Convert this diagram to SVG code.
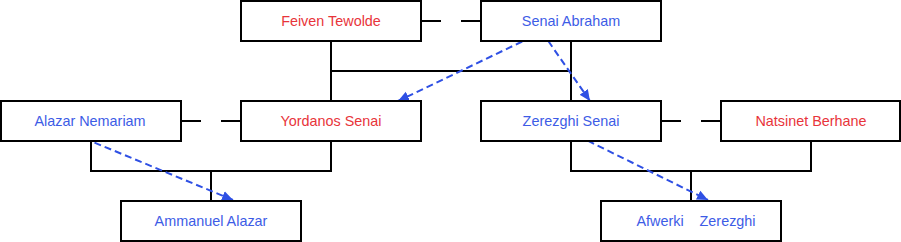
<svg xmlns="http://www.w3.org/2000/svg" width="901" height="242" viewBox="0 0 901 242">
<style>
.box{fill:#fff;stroke:#000;stroke-width:2}
.t{font-family:"Liberation Sans",Arial,sans-serif;font-size:14.4px;text-anchor:middle}
.red{fill:#e8343a}
.blue{fill:#3d5ce6}
.ln{fill:none;stroke:#000;stroke-width:2}
.dash{fill:none;stroke:#2f50e4;stroke-width:2;stroke-dasharray:7 4;marker-end:url(#ah)}
</style>
<defs>
<marker id="ah" markerUnits="userSpaceOnUse" markerWidth="12" markerHeight="12" viewBox="0 0 12 12" refX="11" refY="6" orient="auto">
<path d="M0,1 L11,6 L0,11 Z" fill="#2f50e4"/>
</marker>
</defs>
<g id="connectors">
<path class="ln" d="M421,21 H441 M461,21 H481"/>
<path class="ln" d="M331,41 V101 M571,41 V101 M331,71 H571"/>
<path class="ln" d="M181,121 H201 M221,121 H241"/>
<path class="ln" d="M661,121 H681 M701,121 H721"/>
<path class="ln" d="M91,141 V171 H331 V141 M211,171 V201"/>
<path class="ln" d="M571,141 V171 H811 V141 M691,171 V201"/>
<path class="dash" d="M542,32 L398,101"/>
<path class="dash" d="M542,32 L590,101"/>
<path class="dash" d="M64,130 L233,200"/>
<path class="dash" d="M568,131 L708,200"/>
</g>
<g id="feiven"><rect class="box" x="241" y="1" width="180" height="40"/><text class="t red" x="331" y="26">Feiven Tewolde</text></g>
<g id="senai"><rect class="box" x="481" y="1" width="180" height="40"/><text class="t blue" x="571" y="26">Senai Abraham</text></g>
<g id="alazar"><rect class="box" x="1" y="101" width="180" height="40"/><text class="t blue" x="90" y="125.5">Alazar Nemariam</text></g>
<g id="yordanos"><rect class="box" x="241" y="101" width="180" height="40"/><text class="t red" x="331" y="125.5">Yordanos Senai</text></g>
<g id="zerezghi"><rect class="box" x="481" y="101" width="180" height="40"/><text class="t blue" x="571" y="125.5">Zerezghi Senai</text></g>
<g id="natsinet"><rect class="box" x="721" y="101" width="179" height="40"/><text class="t red" x="811" y="125.5">Natsinet Berhane</text></g>
<g id="ammanuel"><rect class="box" x="121" y="201" width="180" height="40"/><text class="t blue" x="211" y="225.5">Ammanuel Alazar</text></g>
<g id="afwerki"><rect class="box" x="601" y="201" width="180" height="40"/><text class="t blue" x="696" y="225.5" xml:space="preserve" style="white-space:pre">Afwerki    Zerezghi</text></g>
</svg>
